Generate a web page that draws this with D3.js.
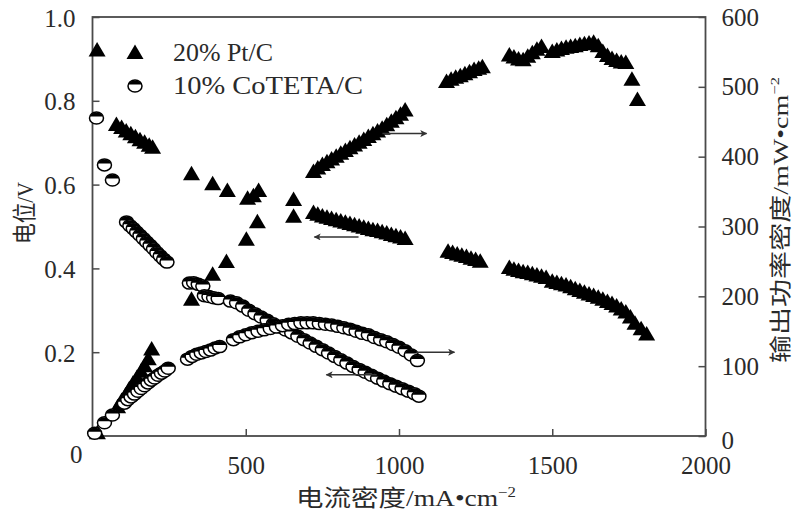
<!DOCTYPE html>
<html><head><meta charset="utf-8">
<script src="https://cdn.jsdelivr.net/npm/d3@7"></script>
<style>
body{margin:0;background:#fff;}
svg text{font-family:"Liberation Serif","Noto Sans CJK SC",serif;fill:#2a2a2a;}
</style></head>
<body><svg id="c" width="795" height="519"></svg>
<script>
// ---- data ----
const xTicks = [0, 500, 1000, 1500, 2000];
const vTicks = [0.2, 0.4, 0.6, 0.8, 1.0];
const pTicks = [0, 100, 200, 300, 400, 500, 600];

// 20% Pt/C : voltage (V) vs current density (mA/cm2)
const ptI_V = [15, 78, 95, 110, 125, 140, 155, 170, 185, 196, 323, 392, 440, 506, 525, 542, 656,
  721, 735, 750, 765, 780, 795, 810, 825, 840, 855, 870, 885, 900, 915, 930, 945, 960, 975, 990, 1005, 1020,
  1160, 1175, 1190, 1205, 1220, 1235, 1250, 1265,
  1360, 1375, 1390, 1405, 1420, 1435, 1450, 1465, 1480,
  1500, 1515, 1530, 1545, 1560, 1575, 1590, 1605, 1620, 1635, 1650, 1665, 1680, 1695, 1710, 1725, 1740, 1755, 1770, 1790, 1808];
const ptV = [0.92, 0.742, 0.735, 0.727, 0.72, 0.713, 0.706, 0.70, 0.693, 0.688, 0.625, 0.601, 0.585, 0.566, 0.572, 0.585, 0.563,
  0.532, 0.528, 0.524, 0.521, 0.518, 0.515, 0.512, 0.509, 0.506, 0.503, 0.500, 0.497, 0.494, 0.491, 0.489, 0.486, 0.483, 0.480, 0.477, 0.474, 0.470,
  0.440, 0.437, 0.433, 0.430, 0.427, 0.423, 0.420, 0.416,
  0.401, 0.397, 0.394, 0.391, 0.389, 0.386, 0.383, 0.380, 0.377,
  0.368, 0.365, 0.362, 0.359, 0.355, 0.350, 0.346, 0.342, 0.338, 0.334, 0.330, 0.325, 0.320, 0.315, 0.309, 0.302, 0.295, 0.283, 0.268, 0.255, 0.242];

// 20% Pt/C : power density (mW/cm2)
const ptI_P = [16, 82, 95, 108, 120, 132, 145, 158, 170, 182, 193, 323, 392, 437, 502, 538, 656,
  721, 735, 750, 765, 780, 795, 810, 825, 840, 855, 870, 885, 900, 915, 930, 945, 960, 975, 990, 1005, 1020,
  1155, 1170, 1185, 1200, 1215, 1230, 1245, 1260, 1272,
  1360, 1375, 1390, 1405, 1420, 1435, 1450, 1465,
  1500, 1515, 1530, 1545, 1560, 1575, 1590, 1605, 1620, 1635, 1650, 1665, 1680, 1695, 1710, 1725, 1740, 1760, 1778];
const ptP = [4, 41, 50, 58, 67, 75, 83, 92, 100, 110, 124, 195, 231, 249, 281, 306, 314,
  378, 383, 388, 392, 396, 400, 404, 408, 412, 416, 420, 424, 428, 432, 436, 440, 445, 450, 455, 460, 466,
  507, 510, 513, 515, 518, 521, 524, 526, 528,
  545, 542, 539, 538, 543, 548, 553, 557,
  550, 552, 554, 556, 557, 558, 560, 561, 562, 563, 558, 550, 544, 540, 537, 535, 534, 510, 481];

// 10% CoTETA/C : voltage
const coI_V = [13, 39, 65, 111, 122, 133, 144, 155, 166, 177, 188, 199, 210, 221, 232, 243,
  316, 330, 345, 360, 365, 380, 395, 410, 450, 470, 490, 510, 530, 550, 570, 590, 610, 630, 650, 670, 690,
  710, 730, 750, 770, 790, 810, 830, 850, 870, 890, 910, 930, 950, 970, 990, 1010, 1030, 1050, 1065];
const coV = [0.759, 0.647, 0.611, 0.511, 0.502, 0.495, 0.487, 0.479, 0.471, 0.463, 0.455, 0.447, 0.438, 0.430, 0.422, 0.415,
  0.365, 0.366, 0.362, 0.358, 0.335, 0.333, 0.330, 0.328, 0.322, 0.318, 0.310, 0.300, 0.292, 0.284, 0.276, 0.268, 0.260, 0.253, 0.246, 0.238, 0.230,
  0.222, 0.214, 0.206, 0.198, 0.190, 0.182, 0.174, 0.166, 0.159, 0.152, 0.145, 0.138, 0.131, 0.125, 0.119, 0.113, 0.107, 0.101, 0.095];

// 10% CoTETA/C : power density
const coI_P = [7, 39, 65, 104, 115, 126, 137, 148, 159, 170, 181, 192, 203, 214, 225, 236, 247,
  310, 325, 340, 355, 370, 385, 400, 415, 460, 480, 500, 520, 540, 560, 580, 600, 620, 640, 660, 680, 700,
  720, 740, 760, 780, 800, 820, 840, 860, 880, 900, 920, 940, 960, 980, 1000, 1020, 1040, 1060];
const coP = [4, 19, 30, 47, 52, 56, 60, 64, 68, 72, 76, 80, 83, 87, 90, 93, 97,
  110, 114, 117, 119, 121, 123, 126, 128, 138, 142, 145, 148, 150, 152, 154, 156, 158, 160, 161, 162, 162,
  162, 161, 160, 159, 157, 155, 153, 150, 147, 145, 141, 138, 135, 131, 127, 122, 116, 108];

// annotation arrows: [fromI, toI, value, axis]
const arrowFrom = [946, 868, 1057, 927];
const arrowTo   = [1090, 724, 1181, 763];
const arrowVal  = [433, 0.475, 120, 0.146];
const arrowAxis = ["R", "L", "R", "L"];

const legendLabels = ["20% Pt/C", "10% CoTETA/C"];

// ---- chart ----
const svg = d3.select("#c");
const L = 92.5, R = 705.5, T = 17, B = 436;
const x = d3.scaleLinear().domain([0, 2000]).range([L, R]);
const yL = d3.scaleLinear().domain([0, 1]).range([B, T]);
const yR = d3.scaleLinear().domain([0, 600]).range([B, T]);
const axisCol = "#4a4a4a";

const triPath = "M0,-8.5L8.5,6L-8.5,6Z";
function drawTri(g, cx, cy) {
  g.append("path").attr("d", triPath).attr("transform", `translate(${cx},${cy})`).attr("fill", "#000");
}
function drawCirc(g, cx, cy) {
  const gg = g.append("g").attr("transform", `translate(${cx},${cy})`);
  gg.append("ellipse").attr("rx", 7).attr("ry", 6).attr("fill", "#fff").attr("stroke", "#000").attr("stroke-width", 1.5);
  gg.append("path").attr("d", "M-6.6,-1.5A7,6 0 0 1 6.6,-1.5Z").attr("fill", "#000");
}

// frame
svg.append("rect").attr("x", L).attr("y", T).attr("width", R - L).attr("height", B - T)
  .attr("fill", "none").attr("stroke", axisCol).attr("stroke-width", 1.8);

// axes (inward ticks)
const gx = svg.append("g").attr("transform", `translate(0,${B})`)
  .call(d3.axisBottom(x).tickValues(xTicks).tickSize(-7).tickPadding(14).tickFormat(d => d === 0 ? "" : d));
const gl = svg.append("g").attr("transform", `translate(${L},0)`)
  .call(d3.axisLeft(yL).tickValues(vTicks).tickSize(-7).tickPadding(17).tickFormat(d3.format(".1f")));
const gr = svg.append("g").attr("transform", `translate(${R},0)`)
  .call(d3.axisRight(yR).tickValues(pTicks).tickSize(-7).tickPadding(16).tickFormat(d => d));
[gx, gl, gr].forEach(g => {
  g.select(".domain").remove();
  g.selectAll(".tick line").attr("stroke", axisCol).attr("stroke-width", 1.5);
  g.selectAll(".tick text").attr("font-size", 25).attr("font-family", "Liberation Serif").attr("fill", "#2a2a2a");
});
gx.selectAll(".tick text").attr("dy", "0.95em");
gl.selectAll(".tick text").attr("dy", "0.36em");
gr.selectAll(".tick text").filter(d => d === 0).attr("dy", "0.5em");
// left-axis zero label (sits below-left of the corner)
svg.append("text").attr("x", x(0) - 10).attr("y", yL(0) + 27).attr("text-anchor", "end")
  .attr("font-size", 25).text("0");

// series
const gPt = svg.append("g");
ptI_V.forEach((d, i) => drawTri(gPt, x(d), yL(ptV[i])));
ptI_P.forEach((d, i) => drawTri(gPt, x(d), yR(ptP[i])));
const gCo = svg.append("g");
coI_V.forEach((d, i) => drawCirc(gCo, x(d), yL(coV[i])));
coI_P.forEach((d, i) => drawCirc(gCo, x(d), yR(coP[i])));

// arrows
svg.append("defs").append("marker").attr("id", "ah").attr("viewBox", "0 0 10 10")
  .attr("refX", 9).attr("refY", 5).attr("markerWidth", 11).attr("markerHeight", 7)
  .attr("markerUnits", "userSpaceOnUse").attr("orient", "auto")
  .append("path").attr("d", "M0,0L10,5L0,10L2.5,5Z").attr("fill", "#333");
arrowFrom.forEach((f, i) => {
  const yy = arrowAxis[i] === "R" ? yR(arrowVal[i]) : yL(arrowVal[i]);
  svg.append("line").attr("x1", x(f)).attr("x2", x(arrowTo[i])).attr("y1", yy).attr("y2", yy)
    .attr("stroke", "#333").attr("stroke-width", 1.5).attr("marker-end", "url(#ah)");
});

// legend
drawTri(svg, 135, 53);
drawCirc(svg, 135, 86);
svg.append("text").attr("x", 173).attr("y", 61).attr("font-size", 26)
  .attr("textLength", 100).attr("lengthAdjust", "spacingAndGlyphs").text(legendLabels[0]);
svg.append("text").attr("x", 173).attr("y", 94).attr("font-size", 26)
  .attr("textLength", 190).attr("lengthAdjust", "spacingAndGlyphs").text(legendLabels[1]);

// axis titles
const xt = svg.append("text").attr("x", 406).attr("y", 506).attr("text-anchor", "middle").attr("font-size", 23)
  .attr("textLength", 220).attr("lengthAdjust", "spacingAndGlyphs");
xt.append("tspan").text("电流密度/mA•cm");
xt.append("tspan").attr("dy", -9).attr("font-size", 14).text("−2");

const lt = svg.append("text").attr("transform", "translate(33,213) rotate(-90)").attr("text-anchor", "middle")
  .attr("font-size", 24).attr("textLength", 62).attr("lengthAdjust", "spacingAndGlyphs").text("电位/V");

const rt = svg.append("text").attr("transform", "translate(788,220) rotate(-90)").attr("text-anchor", "middle")
  .attr("font-size", 22).attr("textLength", 286).attr("lengthAdjust", "spacingAndGlyphs");
rt.append("tspan").text("输出功率密度/mW•cm");
rt.append("tspan").attr("dy", -9).attr("font-size", 13).text("−2");
</script></body></html>
